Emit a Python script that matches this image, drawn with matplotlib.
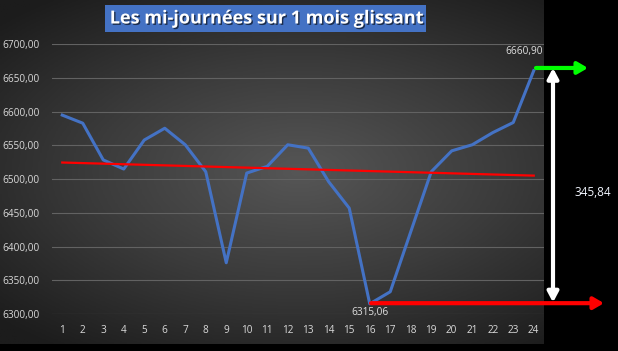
import numpy as np
import matplotlib
matplotlib.use('Agg')
import matplotlib.pyplot as plt
import matplotlib.patheffects as pe
from matplotlib.colors import LinearSegmentedColormap

# data
days = list(range(1, 25))
values = [6595.0, 6583.0, 6528.5, 6515.0, 6558.0, 6575.5, 6551.0, 6511.0,
          6376.0, 6509.0, 6519.0, 6551.0, 6546.0, 6496.0, 6457.0, 6315.06,
          6333.0, 6422.0, 6511.0, 6542.0, 6551.0, 6569.0, 6584.0, 6660.90]
yticks = [6300, 6350, 6400, 6450, 6500, 6550, 6600, 6650, 6700]
title = "Les mi-journées sur 1 mois glissant"
ecart = "345,84"

W, H = 618, 351
fig = plt.figure(figsize=(W / 100, H / 100), dpi=100, facecolor='black')


def fx(px):
    return px / W


def fy(py):
    return 1 - py / H


def fmt(v):
    return f"{v:.2f}".replace('.', ',')


# dark radial gradient background of the chart area
bg = fig.add_axes([0, fy(344), fx(544), 344 / H])
yy, xx = np.mgrid[0:1:200j, 0:1:300j]
r = np.sqrt(((xx - 0.55) / 0.9) ** 2 + ((yy - 0.5) / 0.75) ** 2)
cmap = LinearSegmentedColormap.from_list('bg', ['#565656', '#3b3b3b', '#1c1c1c'])
bg.imshow(r, cmap=cmap, aspect='auto', extent=[0, 1, 0, 1], vmin=0, vmax=0.85)
bg.axis('off')

# plot area
ax = fig.add_axes([fx(52), fy(314), fx(544) - fx(52), (314 - 44.3) / H])
ax.set_facecolor('none')
ax.set_xlim(0.5, 24.5)
ax.set_ylim(6300, 6700)
for s in ax.spines.values():
    s.set_visible(False)
ax.set_yticks(yticks)
ax.set_yticklabels([fmt(t) for t in yticks])
ax.set_xticks(days)
ax.grid(axis='y', color='#626262', linewidth=0.8)
ax.set_axisbelow(True)
ax.tick_params(length=0, colors='#d9d9d9', labelsize=7.2)
ax.tick_params(axis='y', pad=9)
ax.tick_params(axis='x', pad=8)
for lab in ax.get_xticklabels() + ax.get_yticklabels():
    lab.set_family('Open Sans')

ax.plot(days, values, color='#4472C4', linewidth=2.2, solid_joinstyle='round', zorder=3)

# linear trend (as in excel)
coef = np.polyfit(days, values, 1)
trend = np.polyval(coef, days)
ax.plot(days, trend, color='red', linewidth=1.6, zorder=4)

i_max = int(np.argmax(values))
i_min = int(np.argmin(values))
vmax, vmin = values[i_max], values[i_min]
ax.annotate(fmt(vmax), (days[i_max], vmax), xytext=(-7, 10), textcoords='offset points',
            ha='center', va='bottom', color='#e0e0e0', fontsize=7.2, family='Open Sans',
            annotation_clip=False)
ax.annotate(fmt(vmin), (days[i_min], vmin), xytext=(0, -2), textcoords='offset points',
            ha='center', va='top', color='#e0e0e0', fontsize=7.2, family='Open Sans',
            annotation_clip=False)

# arrows
green = dict(arrowstyle='-|>,head_length=0.6,head_width=0.35', color='#00ff00', lw=3.0,
             shrinkA=0, shrinkB=0)
red = dict(arrowstyle='-|>,head_length=0.6,head_width=0.35', color='#ff0000', lw=3.0,
           shrinkA=0, shrinkB=0)
white = dict(arrowstyle='<|-|>,head_length=0.6,head_width=0.32', color='white', lw=3.0,
             shrinkA=0, shrinkB=0)
ax.annotate('', xy=(fx(588), vmax + 4), xytext=(fx(536), vmax + 4),
            xycoords=('figure fraction', 'data'), textcoords=('figure fraction', 'data'),
            arrowprops=green, annotation_clip=False)
ax.annotate('', xy=(fx(604), vmin + 1), xytext=(fx(371), vmin + 1),
            xycoords=('figure fraction', 'data'), textcoords=('figure fraction', 'data'),
            arrowprops=red, annotation_clip=False)
ax.annotate('', xy=(fx(553), vmax + 4), xytext=(fx(553), vmin + 2),
            xycoords=('figure fraction', 'data'), textcoords=('figure fraction', 'data'),
            arrowprops=white, annotation_clip=False)
fig.text(fx(593), fy(193), ecart, color='#f2f6ff', fontsize=8.5, family='Open Sans',
         ha='center', va='center')

# title box
fig.text(fx(265.5), fy(18.5), title, color='white', fontsize=13, fontweight='bold',
         family='Open Sans', ha='center', va='center',
         bbox=dict(boxstyle='square,pad=0.25', facecolor='#4472C4', edgecolor='none'),
         path_effects=[pe.withSimplePatchShadow(offset=(1, -1), shadow_rgbFace='black', alpha=0.6)])

plt.savefig('out.png', dpi=100, facecolor='black')
